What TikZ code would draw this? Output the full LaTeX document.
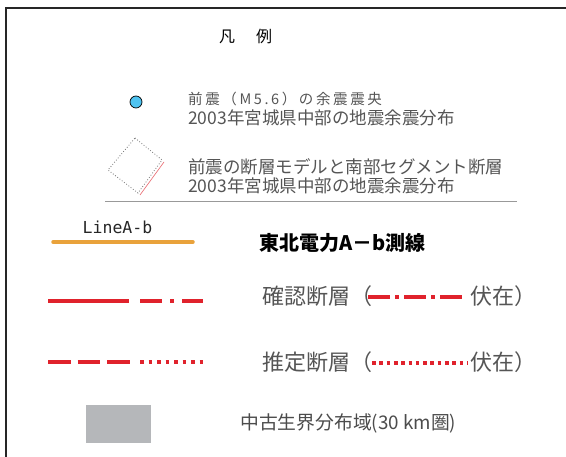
\documentclass[tikz,border=0pt]{standalone}
\usepackage{fontspec}
\newfontfamily\jpfont{Noto Sans CJK JP}
\newfontfamily\monofont{DejaVu Sans Mono}
\usetikzlibrary{positioning}

\definecolor{faultred}{HTML}{E0222C}
\definecolor{lineorange}{HTML}{E9A23B}
\definecolor{quakeblue}{HTML}{4FC3F0}
\definecolor{textgray}{HTML}{555555}
\definecolor{zonegray}{HTML}{B5B7BA}

\begin{document}
\begin{tikzpicture}[
        x=1pt, y=-1pt,
        font=\jpfont,
        txt/.style={anchor=west, inner sep=0pt, text=textgray},
        fault/.style={faultred, line width=3.2pt},
        dashdot/.style={fault, dash pattern=on 22pt off 8pt on 4pt off 8pt},
        dashdotin/.style={fault, dash pattern=on 22pt off 5pt on 4pt off 5pt},
        dashonly/.style={fault, dash pattern=on 22.5pt off 7pt},
        dotsonly/.style={fault, line width=3.4pt, dash pattern=on 3.6pt off 4.9pt},
        dotsin/.style={fault, line width=3.4pt, dash pattern=on 3.6pt off 3.7pt}
    ]
    \useasboundingbox (0,0) rectangle (566,457);
    \fill[white] (0,0) rectangle (566,457);
    % frame
    \draw[black!85, line width=2pt] (6,457) -- (6,8) -- (566,8);
    \node[anchor=west, inner sep=0pt, font=\jpfont\fontsize{16}{16}\selectfont]
        (title) at (219,36) {凡\hspace{21pt}例};

    % aftershock epicentre
    \draw[fill=quakeblue, line width=0.7pt] (136,102) circle (6);
    \node[txt, font=\jpfont\fontsize{14.5}{14.5}\selectfont\addfontfeatures{LetterSpace=18}]
        (epi) at (188,99) {前震（M5.6）の余震震央};
    \node[txt, font=\jpfont\fontsize{17.5}{17.5}\selectfont]
        (dist1) at (188,118) {2003年宮城県中部の地震余震分布};

    % fault model
    \draw[black!55, dotted, line width=0.8pt]
        (135,138) -- (162,160) -- (138,193) -- (108,170) -- cycle;
    \draw[faultred!70, line width=0.6pt] (164,162) -- (140,195);
    \node[txt, font=\jpfont\fontsize{17.5}{17.5}\selectfont]
        (model) at (188,167) {前震の断層モデルと南部セグメント断層};
    \node[txt, font=\jpfont\fontsize{17.5}{17.5}\selectfont]
        (dist2) at (188,186) {2003年宮城県中部の地震余震分布};
    \draw[black!40, line width=0.8pt] (105,201) -- (517,201);

    % survey line
    \node[anchor=center, inner sep=0pt, font=\monofont\fontsize{16.5}{16.5}\selectfont,
        text=black!85] (linelabel) at (117.5,227) {LineA-b};
    \draw[lineorange, line width=3.5pt, line cap=round] (53,242) -- (193,242);
    \node[anchor=west, inner sep=0pt, font=\jpfont\bfseries\fontsize{20}{20}\selectfont]
        (survey) at (259,243) {東北電力A－b測線};

    % confirmed fault
    \draw[fault] (48,301) -- (129,301);
    \draw[dashdot] (140,301) -- (203,301);
    \node[txt, font=\jpfont\fontsize{22}{22}\selectfont] (conf) at (262,296) {確認断層（};
    \draw[dashdotin] (368,297) -- (462,297);
    \node[txt, font=\jpfont\fontsize{22}{22}\selectfont] (confhid) at (470,296) {伏在）};

    % inferred fault
    \draw[dashonly] (48,362) -- (129.5,362);
    \draw[dotsonly] (140,362) -- (204,362);
    \node[txt, font=\jpfont\fontsize{22}{22}\selectfont] (infer) at (262,362) {推定断層（};
    \draw[dotsin] (372,363) -- (468,363);
    \node[txt, font=\jpfont\fontsize{22}{22}\selectfont] (inferhid) at (470,362) {伏在）};

    % Mesozoic-Palaeozoic zone
    \fill[zonegray] (86,405) rectangle (151,443);
    \node[txt, text=black!70, font=\jpfont\fontsize{18.8}{18.8}\selectfont]
        (zone) at (240,423) {中古生界分布域(30 km圏)};
\end{tikzpicture}
\end{document}
